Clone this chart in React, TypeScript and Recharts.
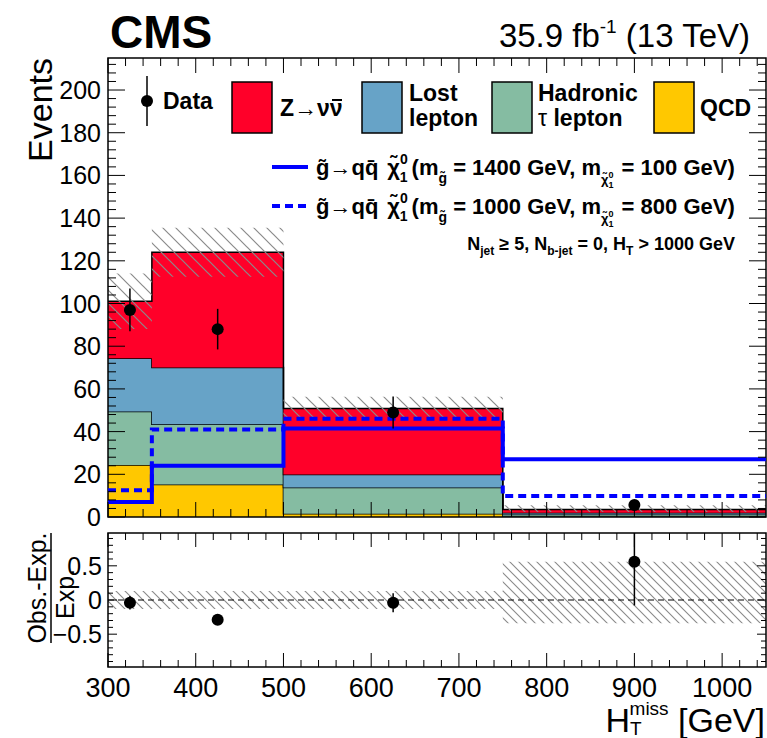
import React from 'react';
import {
  ComposedChart,
  Area,
  Line,
  Scatter,
  ErrorBar,
  XAxis,
  YAxis,
  ReferenceArea,
  ReferenceLine,
} from 'recharts';

// bins in HTmiss [GeV]
const binEdges = [300, 350, 500, 750, 1050];
const binCenters = [325, 425, 625, 900];

// stacked backgrounds (events per bin)
const qcd = [24.4, 15.2, 1.5, 0.2];
const tauHad = [25.0, 28.3, 12.3, 1.0];
const lostLepton = [25.0, 26.5, 6.1, 0.8];
const zinv = [26.7, 54.0, 30.9, 1.5];
const bkgUncUp = [13, 11.5, 5.5, 2.0];
const bkgUncDown = [13, 11.5, 5.5, 1.2];

// signal models
const sig1400 = [7, 24, 41.5, 27];
const sig1000 = [12.5, 41, 46, 9.8];

// observed
const obs = [97, 88, 49, 5.6];
const obsErr = [10, 9.5, 7.5, 2.4];

// ratio panel
const ratio = [-0.04, -0.29, -0.04, 0.56];
const ratioErr: (number | number[])[] = [0.1, 0.07, 0.14, [0.64, 0.42]];
const ratioUncUp = [0.13, 0.13, 0.13, 0.56];
const ratioUncDown = [0.13, 0.13, 0.13, 0.34];

const xMajorLabels = [300, 400, 500, 600, 700, 800, 900, 1000];
const yMajorLabels = [0, 20, 40, 60, 80, 100, 120, 140, 160, 180, 200];
const ratioLabels = [-0.5, 0, 0.5];

const C_Z = '#ff0029';
const C_LL = '#67a3c7';
const C_TAU = '#85bca2';
const C_QCD = '#ffc800';
const C_SIG = '#0000ff';
const FONT = '"Liberation Sans", Arial, Helvetica, sans-serif';

const L = 108;
const R = 766;
const MAIN_TOP = 58;
const MAIN_BOT = 517;
const RAT_TOP = 13;
const RAT_BOT = 147;

function steps(from: number, to: number, step: number) {
  const out: number[] = [];
  const n = Math.round((to - from) / step);
  for (let i = 0; i <= n; i++) out.push(Math.round((from + i * step) * 1000) / 1000);
  return out;
}

const xTicks = steps(300, 1040, 20);
const yTicks = steps(0, 212, 4);
const rTicks = steps(-0.9, 0.9, 0.1);

const total = qcd.map((v, i) => v + tauHad[i] + lostLepton[i] + zinv[i]);
const nb = qcd.length;

const mainRows = binEdges.map((x, i) => {
  const b = Math.min(i, nb - 1);
  return {
    x,
    qcd: qcd[b],
    tau: tauHad[b],
    ll: lostLepton[b],
    z: zinv[b],
    band: [total[b] - bkgUncDown[b], total[b] + bkgUncUp[b]],
    sigA: sig1400[b],
    sigB: sig1000[b],
  };
});

const ratioRows = binEdges.map((x, i) => {
  const b = Math.min(i, nb - 1);
  return { x, band: [-ratioUncDown[b], ratioUncUp[b]] };
});

const obsPts = binCenters.map((x, i) => ({ x, y: obs[i], err: obsErr[i] }));
const ratioPts = binCenters.map((x, i) => ({ x, y: ratio[i], err: ratioErr[i] }));

const Dot = (p: any) => <circle cx={p.cx} cy={p.cy} r={6} fill="#000" />;

const MainYTick = (p: any) => {
  const v = p.payload.value;
  const major = yMajorLabels.includes(v);
  const len = major ? 17 : 8;
  return (
    <g>
      <line x1={L} x2={L + len} y1={p.y} y2={p.y} stroke="#000" />
      <line x1={R - len} x2={R} y1={p.y} y2={p.y} stroke="#000" />
      {major && (
        <text x={L - 7} y={p.y + 9} textAnchor="end" fontSize={25} fontFamily={FONT} fill="#000">
          {v}
        </text>
      )}
    </g>
  );
};

const MainXTick = (p: any) => {
  const v = p.payload.value;
  const len = xMajorLabels.includes(v) ? 15 : 8;
  return (
    <g>
      <line x1={p.x} x2={p.x} y1={MAIN_BOT} y2={MAIN_BOT - len} stroke="#000" />
      <line x1={p.x} x2={p.x} y1={MAIN_TOP} y2={MAIN_TOP + len} stroke="#000" />
    </g>
  );
};

const RatioYTick = (p: any) => {
  const v = p.payload.value;
  const major = ratioLabels.includes(v);
  const len = major ? 9 : 5;
  return (
    <g>
      <line x1={L} x2={L + len} y1={p.y} y2={p.y} stroke="#000" />
      <line x1={R - len} x2={R} y1={p.y} y2={p.y} stroke="#000" />
      {major && (
        <text x={L - 6} y={p.y + 9} textAnchor="end" fontSize={25} fontFamily={FONT} fill="#000">
          {v < 0 ? '\u2212' + Math.abs(v) : v}
        </text>
      )}
    </g>
  );
};

const RatioXTick = (p: any) => {
  const v = p.payload.value;
  const major = xMajorLabels.includes(v);
  const len = major ? 14 : 7;
  return (
    <g>
      <line x1={p.x} x2={p.x} y1={RAT_BOT} y2={RAT_BOT - len} stroke="#000" />
      <line x1={p.x} x2={p.x} y1={RAT_TOP} y2={RAT_TOP + len} stroke="#000" />
      {major && (
        <text x={p.x} y={RAT_BOT + 30} textAnchor="middle" fontSize={27} fontFamily={FONT} fill="#000">
          {v}
        </text>
      )}
    </g>
  );
};

function SigLabel({ y, mg, mchi }: { y: number; mg: number; mchi: number }) {
  return (
    <text x={316} y={y} fontSize={22} fontWeight="bold" fontFamily={FONT} fill="#000">
      <tspan>{'g\u0303\u2192qq\u0304'}</tspan>
      <tspan dx={9}>{'\u03c7\u0303'}</tspan>
      <tspan fontSize={14} dy={-11}>0</tspan>
      <tspan fontSize={14} dx={-8} dy={18}>1</tspan>
      <tspan dx={4} dy={-7}>(m</tspan>
      <tspan fontSize={14} dy={8}>{'g\u0303'}</tspan>
      <tspan dy={-8}>{` = ${mg} GeV, m`}</tspan>
      <tspan fontSize={13} dy={9}>{'\u03c7\u0303'}</tspan>
      <tspan fontSize={9} dy={-6}>0</tspan>
      <tspan fontSize={9} dx={-5} dy={10}>1</tspan>
      <tspan dx={2} dy={-13}>{` = ${mchi} GeV)`}</tspan>
    </text>
  );
}

function Overlay() {
  const box = (x: number, c: string) => (
    <rect x={x} y={82} width={40} height={51} fill={c} stroke="#000" strokeWidth={1.5} />
  );
  return (
    <svg
      width={767}
      height={738}
      style={{ position: 'absolute', left: 0, top: 0, pointerEvents: 'none' }}
      fontFamily={FONT}
    >
      <text x={110} y={48} fontSize={46} fontWeight="bold">CMS</text>
      <text x={750} y={47} fontSize={33} textAnchor="end">
        35.9 fb<tspan fontSize={19} dy={-14}>-1</tspan>
        <tspan dy={14}> (13 TeV)</tspan>
      </text>
      <text transform="translate(52,58) rotate(-90)" textAnchor="end" fontSize={34}>Events</text>

      {/* legend */}
      <line x1={147} x2={147} y1={76} y2={126} stroke="#000" strokeWidth={1.5} />
      <circle cx={147} cy={101} r={6} fill="#000" />
      <text x={163} y={109} fontSize={23} fontWeight="bold">Data</text>
      {box(232, C_Z)}
      <text x={280} y={116} fontSize={23} fontWeight="bold">
        Z<tspan fontWeight="normal">{'\u2192'}</tspan>{'\u03bd\u03bd'}
      </text>
      <line x1={332} x2={342} y1={100} y2={100} stroke="#000" strokeWidth={2} />
      {box(362, C_LL)}
      <text x={409} y={101} fontSize={23} fontWeight="bold">Lost</text>
      <text x={409} y={126} fontSize={23} fontWeight="bold">lepton</text>
      {box(492, C_TAU)}
      <text x={538} y={101} fontSize={23} fontWeight="bold">Hadronic</text>
      <text x={538} y={126} fontSize={23} fontWeight="bold">
        <tspan fontWeight="normal">{'\u03c4'}</tspan> lepton
      </text>
      {box(654, C_QCD)}
      <text x={700} y={116} fontSize={23} fontWeight="bold">QCD</text>

      <line x1={272} x2={308} y1={167} y2={167} stroke={C_SIG} strokeWidth={4} />
      <SigLabel y={175} mg={1400} mchi={100} />
      <line x1={272} x2={308} y1={206} y2={206} stroke={C_SIG} strokeWidth={4} strokeDasharray="8 5" />
      <SigLabel y={214} mg={1000} mchi={800} />

      <text x={735} y={250} textAnchor="end" fontSize={18} fontWeight="bold">
        N<tspan fontSize={12} dy={5}>jet</tspan>
        <tspan dy={-5}>{' \u2265 5, N'}</tspan>
        <tspan fontSize={12} dy={5}>b-jet</tspan>
        <tspan dy={-5}>{' = 0, H'}</tspan>
        <tspan fontSize={12} dy={5}>T</tspan>
        <tspan dy={-5}>{' > 1000 GeV'}</tspan>
      </text>

      {/* ratio title */}
      <text transform="translate(46,588) rotate(-90)" textAnchor="middle" fontSize={25}>Obs.-Exp.</text>
      <line x1={51} x2={51} y1={533} y2={643} stroke="#000" strokeWidth={1.5} />
      <text transform="translate(74,594) rotate(-90)" textAnchor="middle" fontSize={25}>Exp.</text>

      {/* x title */}
      <text x={765} y={732} textAnchor="end" fontSize={34}>
        H<tspan fontSize={19} dy={3}>T</tspan>
        <tspan fontSize={19} dx={-12} dy={-20}>miss</tspan>
        <tspan dy={17}> [GeV]</tspan>
      </text>
    </svg>
  );
}

export default function App() {
  return (
    <div style={{ position: 'absolute', left: 0, top: 0, width: 767, height: 738, background: '#fff' }}>
      <svg width={0} height={0} style={{ position: 'absolute' }}>
        <defs>
          <pattern id="hatchMain" width={13} height={13} patternUnits="userSpaceOnUse">
            <path d="M0,0 L13,13 M-2,11 L2,15 M11,-2 L15,2" stroke="#8a8a8a" strokeWidth={1.2} />
          </pattern>
          <pattern id="hatchRatio" width={9} height={9} patternUnits="userSpaceOnUse">
            <path d="M0,0 L9,9 M-2,7 L2,11 M7,-2 L11,2" stroke="#8a8a8a" strokeWidth={1.1} />
          </pattern>
        </defs>
      </svg>

      <div style={{ position: 'absolute', left: 0, top: 0 }}>
        <ComposedChart width={767} height={540} data={mainRows} margin={{ top: MAIN_TOP, right: 1, bottom: 20, left: 0 }}>
          <XAxis
            type="number"
            dataKey="x"
            domain={[300, 1050]}
            allowDataOverflow
            ticks={xTicks}
            interval={0}
            height={3}
            axisLine={false}
            tickLine={false}
            tick={(p: any) => <MainXTick {...p} />}
          />
          <YAxis
            type="number"
            domain={[0, 215]}
            allowDataOverflow
            ticks={yTicks}
            interval={0}
            width={L}
            axisLine={false}
            tickLine={false}
            tick={(p: any) => <MainYTick {...p} />}
          />
          <Area type="stepAfter" dataKey="qcd" stackId="bkg" fill={C_QCD} fillOpacity={1} stroke="#000" strokeWidth={1.5} isAnimationActive={false} />
          <Area type="stepAfter" dataKey="tau" stackId="bkg" fill={C_TAU} fillOpacity={1} stroke="#000" strokeWidth={1.5} isAnimationActive={false} />
          <Area type="stepAfter" dataKey="ll" stackId="bkg" fill={C_LL} fillOpacity={1} stroke="#000" strokeWidth={1.5} isAnimationActive={false} />
          <Area type="stepAfter" dataKey="z" stackId="bkg" fill={C_Z} fillOpacity={1} stroke="#000" strokeWidth={1.5} isAnimationActive={false} />
          <Line type="stepAfter" dataKey="sigB" stroke={C_SIG} strokeWidth={4} strokeDasharray="8 5" dot={false} isAnimationActive={false} />
          <Line type="stepAfter" dataKey="sigA" stroke={C_SIG} strokeWidth={4} dot={false} isAnimationActive={false} />
          <Area type="stepAfter" dataKey="band" fill="url(#hatchMain)" fillOpacity={1} stroke="none" isAnimationActive={false} />
          <Scatter data={obsPts} dataKey="y" shape={Dot} isAnimationActive={false}>
            <ErrorBar dataKey="err" direction="y" width={0} stroke="#000" strokeWidth={1.5} />
          </Scatter>
          <ReferenceArea x1={300} x2={1050} y1={0} y2={215} fill="none" stroke="#000" strokeWidth={1.5} />
        </ComposedChart>
      </div>

      <div style={{ position: 'absolute', left: 0, top: 520 }}>
        <ComposedChart width={767} height={218} data={ratioRows} margin={{ top: RAT_TOP, right: 1, bottom: 0, left: 0 }}>
          <XAxis
            type="number"
            dataKey="x"
            domain={[300, 1050]}
            allowDataOverflow
            ticks={xTicks}
            interval={0}
            height={71}
            axisLine={false}
            tickLine={false}
            tick={(p: any) => <RatioXTick {...p} />}
          />
          <YAxis
            type="number"
            domain={[-0.98, 0.98]}
            allowDataOverflow
            ticks={rTicks}
            interval={0}
            width={L}
            axisLine={false}
            tickLine={false}
            tick={(p: any) => <RatioYTick {...p} />}
          />
          <Area type="stepAfter" dataKey="band" fill="url(#hatchRatio)" fillOpacity={1} stroke="none" isAnimationActive={false} />
          <ReferenceLine y={0} stroke="#000" strokeDasharray="6 4" strokeWidth={1} />
          <Scatter data={ratioPts} dataKey="y" shape={Dot} isAnimationActive={false}>
            <ErrorBar dataKey="err" direction="y" width={0} stroke="#000" strokeWidth={1.5} />
          </Scatter>
          <ReferenceArea x1={300} x2={1050} y1={-0.98} y2={0.98} fill="none" stroke="#000" strokeWidth={1.5} />
        </ComposedChart>
      </div>

      <Overlay />
    </div>
  );
}
